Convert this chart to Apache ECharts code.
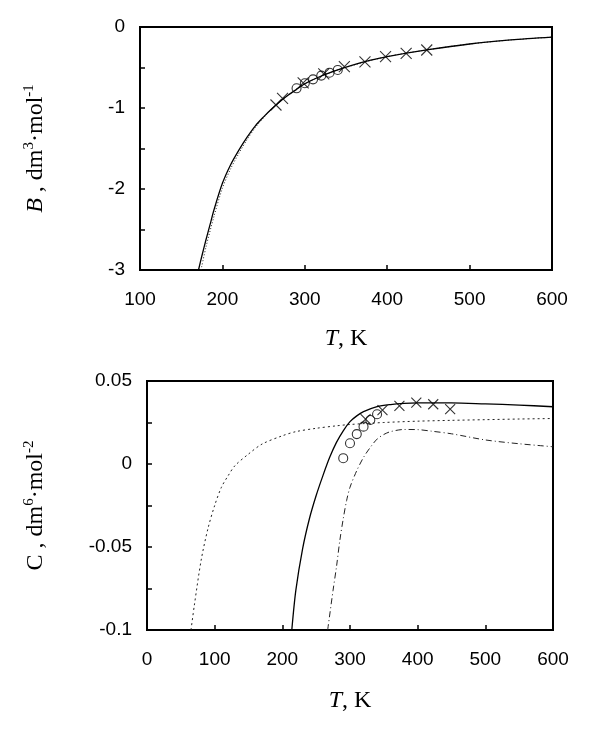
<!DOCTYPE html>
<html>
<head>
<meta charset="utf-8">
<script src="https://cdn.jsdelivr.net/npm/echarts@6/dist/echarts.min.js"></script>
<style>
  html, body { margin: 0; padding: 0; background: #fff; }
  #main { width: 592px; height: 740px; }
</style>
</head>
<body>
<div id="main"></div>
<script>
// top panel: B(T)
const tBSolid = [171, 175, 180, 185, 190, 200, 210, 220, 230, 240, 250, 260, 270, 280, 290, 300, 320, 340, 360, 380, 400, 450, 500, 550, 600]
const bSolid = [-3.0, -2.83, -2.63, -2.44, -2.25, -1.93, -1.70, -1.52, -1.36, -1.22, -1.11, -1.01, -0.92, -0.84, -0.77, -0.70, -0.605, -0.53, -0.465, -0.41, -0.365, -0.28, -0.21, -0.16, -0.125]
const tBDot = [174, 180, 190, 200, 210, 220, 230, 240, 250, 260, 270, 280, 300, 340, 400, 450, 500, 550, 600]
const bDot = [-3.0, -2.72, -2.33, -1.99, -1.75, -1.56, -1.39, -1.24, -1.12, -1.01, -0.92, -0.84, -0.70, -0.53, -0.365, -0.28, -0.21, -0.16, -0.125]
const tBCross = [265, 273, 298, 323, 348, 373, 398, 423, 448]
const bCross = [-0.963, -0.88, -0.69, -0.58, -0.49, -0.43, -0.367, -0.325, -0.284]
const tBCircle = [290, 300, 310, 320, 330, 340]
const bCircle = [-0.757, -0.695, -0.646, -0.60, -0.564, -0.53]

// bottom panel: C(T)
const tCSolid = [214, 220, 230, 240, 250, 260, 270, 280, 290, 300, 310, 320, 340, 360, 380, 400, 450, 500, 550, 600]
const cSolid = [-0.1, -0.076, -0.051, -0.033, -0.019, -0.007, 0.004, 0.013, 0.020, 0.0255, 0.029, 0.0315, 0.0345, 0.0358, 0.0365, 0.0368, 0.0368, 0.0362, 0.0355, 0.0345]
const tCDash = [65, 70, 80, 90, 100, 110, 120, 130, 150, 170, 200, 220, 250, 280, 300, 350, 400, 450, 500, 550, 600]
const cDash = [-0.1, -0.085, -0.058, -0.039, -0.025, -0.014, -0.007, -0.001, 0.006, 0.012, 0.017, 0.0195, 0.0215, 0.023, 0.0238, 0.025, 0.0258, 0.0263, 0.0267, 0.0271, 0.0274]
const tCDashDot = [267, 275, 280, 285, 290, 295, 300, 310, 320, 330, 340, 350, 360, 380, 400, 420, 450, 500, 550, 600]
const cDashDot = [-0.1, -0.076, -0.062, -0.046, -0.033, -0.022, -0.014, -0.004, 0.004, 0.010, 0.0150, 0.0178, 0.0195, 0.0208, 0.0207, 0.0198, 0.0182, 0.0145, 0.0122, 0.0104]
const tCCross = [323, 348, 373, 398, 423, 448]
const cCross = [0.027, 0.0325, 0.035, 0.037, 0.036, 0.033]
const tCCircle = [290, 300, 310, 320, 330, 340]
const cCircle = [0.0035, 0.0125, 0.018, 0.0225, 0.0265, 0.030]

const zip = (xs, ys) => xs.map((x, i) => [x, ys[i]])

const sans = 'Liberation Sans, Arial, sans-serif'
const serif = 'Liberation Serif, Times New Roman, serif'
const crossSymbol = 'path://M0,0L10,10M10,0L0,10'

const nameRich = {
  i: { fontFamily: serif, fontStyle: 'italic', fontSize: 24, color: '#000' },
  r: { fontFamily: serif, fontSize: 24, color: '#000' },
  s: { fontFamily: serif, fontSize: 15, color: '#000', padding: [0, 0, 13, 0] }
}

const axisCommon = {
  axisLine: { onZero: false, lineStyle: { color: '#000', width: 2 } },
  axisTick: { inside: true, length: 5, lineStyle: { color: '#000', width: 1.5 } },
  axisLabel: { color: '#000', fontFamily: sans, fontSize: 19 },
  splitLine: { show: false }
}

const lineSeries = (x, y, data, style) => ({
  type: 'line',
  xAxisIndex: x,
  yAxisIndex: y,
  data: data,
  showSymbol: false,
  smooth: 0.3,
  clip: true,
  lineStyle: style,
  z: 2
})

const markSeries = (x, y, data, symbol, size) => ({
  type: 'scatter',
  xAxisIndex: x,
  yAxisIndex: y,
  data: data,
  symbol: symbol,
  symbolSize: size,
  itemStyle: { color: 'none', borderColor: '#000', borderWidth: 1.1 },
  z: 3
})

const myChart = echarts.init(document.getElementById('main'))
const option = {
  animation: false,
  backgroundColor: '#fff',
  grid: [
    { left: 140, top: 27, width: 412, height: 243, show: true, borderColor: '#000', borderWidth: 2, containLabel: false },
    { left: 147, top: 381, width: 406, height: 249, show: true, borderColor: '#000', borderWidth: 2, containLabel: false }
  ],
  xAxis: [
    {
      ...axisCommon,
      gridIndex: 0, type: 'value', min: 100, max: 600, interval: 100,
      axisLabel: { ...axisCommon.axisLabel, margin: 20 },
      name: '{i|T}{r|, K}', nameLocation: 'middle', nameGap: 57,
      nameTextStyle: { rich: nameRich }
    },
    {
      ...axisCommon,
      gridIndex: 1, type: 'value', min: 0, max: 600, interval: 100,
      axisLabel: { ...axisCommon.axisLabel, margin: 20 },
      name: '{i|T}{r|, K}', nameLocation: 'middle', nameGap: 59,
      nameTextStyle: { rich: nameRich }
    }
  ],
  yAxis: [
    {
      ...axisCommon,
      gridIndex: 0, type: 'value', min: -3, max: 0, interval: 1,
      minorTick: { show: true, splitNumber: 2, length: 5, lineStyle: { color: '#000', width: 1.5 } },
      axisLabel: { ...axisCommon.axisLabel, margin: 15 },
      name: '{i|B}{r| , dm}{s|3}{r|·mol}{s|-1}', nameLocation: 'middle', nameRotate: 90, nameGap: 90,
      nameTextStyle: { rich: nameRich }
    },
    {
      ...axisCommon,
      gridIndex: 1, type: 'value', min: -0.1, max: 0.05, interval: 0.05,
      minorTick: { show: true, splitNumber: 2, length: 5, lineStyle: { color: '#000', width: 1.5 } },
      axisLabel: { ...axisCommon.axisLabel, margin: 15 },
      name: '{r|C , dm}{s|6}{r|·mol}{s|-2}', nameLocation: 'middle', nameRotate: 90, nameGap: 97,
      nameTextStyle: { rich: nameRich }
    }
  ],
  series: [
    lineSeries(0, 0, zip(tBDot, bDot), { color: '#222', width: 1, type: [1, 2] }),
    lineSeries(0, 0, zip(tBSolid, bSolid), { color: '#000', width: 1.3, type: 'solid' }),
    markSeries(0, 0, zip(tBCross, bCross), crossSymbol, 11),
    markSeries(0, 0, zip(tBCircle, bCircle), 'circle', 9),

    lineSeries(1, 1, zip(tCDash, cDash), { color: '#222', width: 1, type: [2, 3] }),
    lineSeries(1, 1, zip(tCSolid, cSolid), { color: '#000', width: 1.3, type: 'solid' }),
    lineSeries(1, 1, zip(tCDashDot, cDashDot), { color: '#222', width: 1, type: [6, 3, 1, 3] }),
    markSeries(1, 1, zip(tCCross, cCross), crossSymbol, 10),
    markSeries(1, 1, zip(tCCircle, cCircle), 'circle', 9)
  ]
}
myChart.setOption(option)
</script>
</body>
</html>
